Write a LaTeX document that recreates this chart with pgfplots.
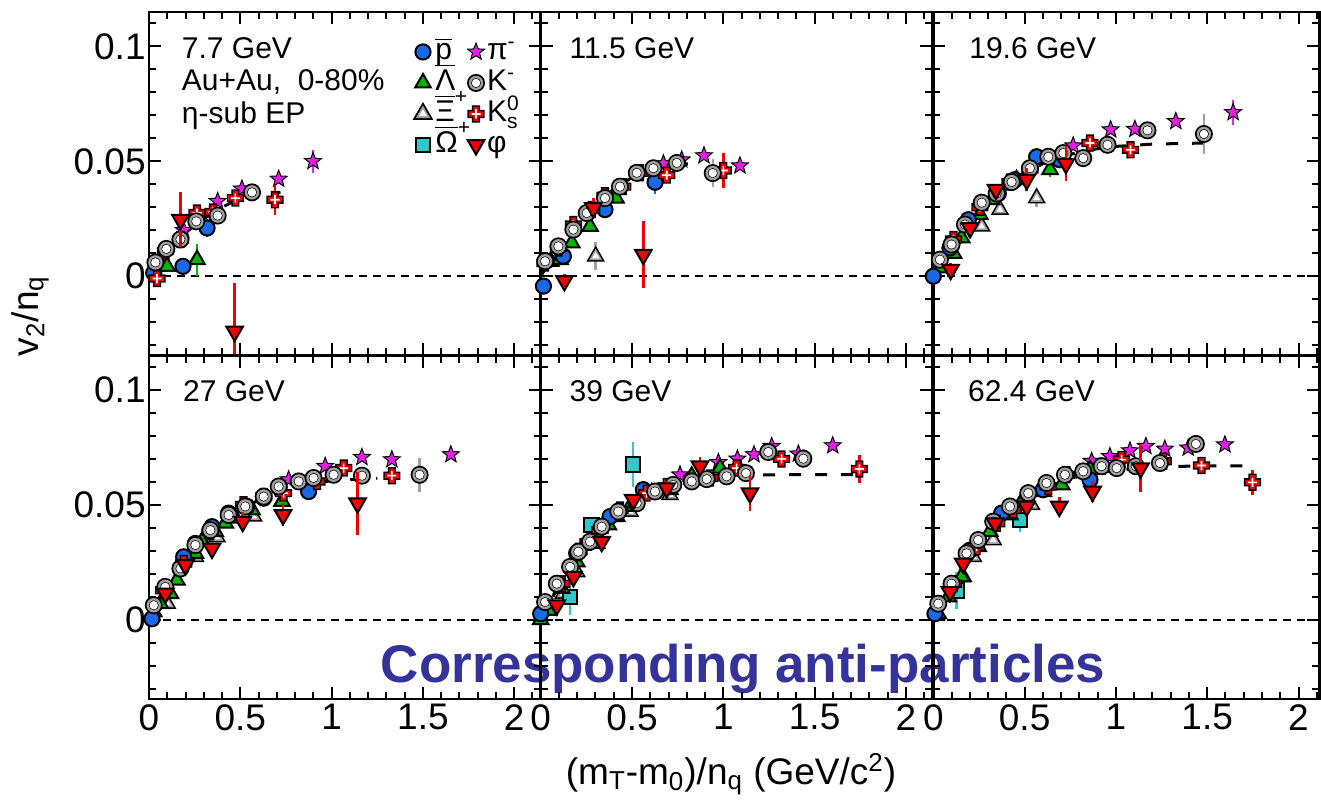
\documentclass[border=0pt]{standalone}
\usepackage{amsmath}
\usepackage{pgfplots}
\pgfplotsset{compat=1.18}
\usepackage{fontspec}
\setmainfont{Liberation Sans}

\definecolor{pblue}{RGB}{25,105,230}
\definecolor{lgreen}{RGB}{0,180,0}
\definecolor{mag}{RGB}{230,30,230}
\definecolor{ocyan}{RGB}{50,200,200}
\definecolor{kred}{RGB}{240,0,0}
\definecolor{xgray}{RGB}{160,160,160}
\definecolor{txtblue}{RGB}{51,51,153}

\pgfdeclareplotmark{kring}{%
  \pgfsetfillcolor{black}\pgfpathcircle{\pgfpointorigin}{\pgfplotmarksize}\pgfusepathqfill
  \pgfsetfillcolor{xgray}\pgfpathcircle{\pgfpointorigin}{0.8\pgfplotmarksize}\pgfusepathqfill
  \pgfsetfillcolor{black}\pgfpathcircle{\pgfpointorigin}{0.55\pgfplotmarksize}\pgfusepathqfill
  \pgfsetfillcolor{white}\pgfpathcircle{\pgfpointorigin}{0.47\pgfplotmarksize}\pgfusepathqfill
}
\newcommand\tripath[3]{% top, half-base x, base y (factors)
  \pgfpathmoveto{\pgfqpoint{0pt}{#1\pgfplotmarksize}}%
  \pgfpathlineto{\pgfqpoint{-#2\pgfplotmarksize}{-#3\pgfplotmarksize}}%
  \pgfpathlineto{\pgfqpoint{#2\pgfplotmarksize}{-#3\pgfplotmarksize}}%
  \pgfpathclose}
\pgfdeclareplotmark{xitri}{%
  \pgfsetfillcolor{black}\tripath{1.3}{1.126}{0.65}\pgfusepathqfill
  \pgfsetfillcolor{xgray}\tripath{0.92}{0.797}{0.46}\pgfusepathqfill
  \pgfsetfillcolor{white}\tripath{0.5}{0.433}{0.25}\pgfusepathqfill
}
\newcommand\pluspath[2]{%
  \pgfpathmoveto{\pgfqpoint{-#1\pgfplotmarksize}{#2\pgfplotmarksize}}%
  \pgfpathlineto{\pgfqpoint{#1\pgfplotmarksize}{#2\pgfplotmarksize}}%
  \pgfpathlineto{\pgfqpoint{#1\pgfplotmarksize}{#1\pgfplotmarksize}}%
  \pgfpathlineto{\pgfqpoint{#2\pgfplotmarksize}{#1\pgfplotmarksize}}%
  \pgfpathlineto{\pgfqpoint{#2\pgfplotmarksize}{-#1\pgfplotmarksize}}%
  \pgfpathlineto{\pgfqpoint{#1\pgfplotmarksize}{-#1\pgfplotmarksize}}%
  \pgfpathlineto{\pgfqpoint{#1\pgfplotmarksize}{-#2\pgfplotmarksize}}%
  \pgfpathlineto{\pgfqpoint{-#1\pgfplotmarksize}{-#2\pgfplotmarksize}}%
  \pgfpathlineto{\pgfqpoint{-#1\pgfplotmarksize}{-#1\pgfplotmarksize}}%
  \pgfpathlineto{\pgfqpoint{-#2\pgfplotmarksize}{-#1\pgfplotmarksize}}%
  \pgfpathlineto{\pgfqpoint{-#2\pgfplotmarksize}{#1\pgfplotmarksize}}%
  \pgfpathlineto{\pgfqpoint{-#1\pgfplotmarksize}{#1\pgfplotmarksize}}%
  \pgfpathclose}
\pgfdeclareplotmark{kscross}{%
  \pgfsetfillcolor{black}\pluspath{0.5}{1.05}\pgfusepathqfill
  \pgfsetfillcolor{kred}\pluspath{0.32}{0.87}\pgfusepathqfill
  \pgfsetfillcolor{white}\pluspath{0.1}{0.55}\pgfusepathqfill
}
\pgfdeclareplotmark{fstar}{%
  \pgfpathmoveto{\pgfpointpolar{90}{1.3\pgfplotmarksize}}%
  \pgfpathlineto{\pgfpointpolar{126}{0.55\pgfplotmarksize}}%
  \pgfpathlineto{\pgfpointpolar{162}{1.3\pgfplotmarksize}}%
  \pgfpathlineto{\pgfpointpolar{198}{0.55\pgfplotmarksize}}%
  \pgfpathlineto{\pgfpointpolar{234}{1.3\pgfplotmarksize}}%
  \pgfpathlineto{\pgfpointpolar{270}{0.55\pgfplotmarksize}}%
  \pgfpathlineto{\pgfpointpolar{306}{1.3\pgfplotmarksize}}%
  \pgfpathlineto{\pgfpointpolar{342}{0.55\pgfplotmarksize}}%
  \pgfpathlineto{\pgfpointpolar{18}{1.3\pgfplotmarksize}}%
  \pgfpathlineto{\pgfpointpolar{54}{0.55\pgfplotmarksize}}%
  \pgfpathclose\pgfusepathqfillstroke
}

\tikzset{ptxt/.style={anchor=base west, font=\fontsize{15}{16}\selectfont}}

\pgfplotsset{
  eb/.style={error bars/y dir=both, error bars/y explicit, error bars/error mark=none,
    error bars/error bar style={line width=1.2pt,#1}},
  mpbar/.style={only marks, mark=*, mark size=3.8pt, mark options={fill=pblue, draw=black, line width=1pt}},
  spbar/.style={mpbar, eb=pblue},
  mlam/.style={only marks, mark=triangle*, mark size=4.5pt, mark options={fill=lgreen, draw=black, line width=1pt}},
  slam/.style={mlam, eb=lgreen},
  mxi/.style={only marks, mark=xitri, mark size=4.1pt},
  sxi/.style={mxi, eb=xgray},
  mom/.style={only marks, mark=square*, mark size=3.6pt, mark options={fill=ocyan, draw=black, line width=1pt}},
  som/.style={mom, eb=ocyan},
  mpi/.style={only marks, mark=fstar, mark size=3.4pt, mark options={fill=mag, draw=black, line width=0.5pt}},
  spi/.style={mpi, eb=mag},
  mkm/.style={only marks, mark=kring, mark size=4.5pt},
  skm/.style={mkm, eb=xgray},
  mks/.style={only marks, mark=kscross, mark size=4.1pt},
  sks/.style={mks, eb=kred},
  mphi/.style={only marks, mark=triangle*, mark size=4.8pt, mark options={rotate=180, fill=kred, draw=black, line width=1pt}},
  sphi/.style={mphi, eb=kred},
  zero/.style={black, line width=0.8pt, dash pattern=on 4pt off 3pt, forget plot},
  fit/.style={black, line width=1.5pt, dash pattern=on 6pt off 7pt, forget plot},
  panel/.style={
    scale only axis, height=171.75pt, anchor=north west,
    xmin=0, ymin=-0.0345, ymax=0.115,
    axis line style={line width=1.4pt},
    xtick={0,0.5,1,1.5,2},
    minor xtick={0.1,0.2,0.3,0.4,0.6,0.7,0.8,0.9,1.1,1.2,1.3,1.4,1.6,1.7,1.8,1.9,2.1},
    ytick={0,0.05,0.1},
    minor ytick={-0.03,-0.02,-0.01,0.01,0.02,0.03,0.04,0.06,0.07,0.08,0.09,0.11},
    tick align=inside, tick pos=both, major tick length=6pt, minor tick length=3.5pt,
    tick style={black, line width=1pt},
    xticklabels={}, yticklabels={},
    ticklabel style={font=\fontsize{18.5}{20}\selectfont},
    yticklabel style={inner xsep=1.5pt},
    xticklabel style={inner ysep=2.5pt},
    clip mode=individual,
  },
  wide/.style={width=195.85pt, xmax=2.145},
}

\begin{document}
\begin{tikzpicture}
\useasboundingbox (0,0) rectangle (660.5pt,-401pt);
\node[anchor=base, text=txtblue, font=\fontsize{26.5}{30}\selectfont\bfseries] at (371.5pt,-341pt) {Corresponding anti-particles};

% ---------- 7.7 GeV ----------
\begin{axis}[panel, wide, at={(74.5pt,-6pt)}, yticklabels={0,0.05,0.1},
  legend columns=2,
  legend style={draw=none, fill=none, at={(rel axis cs:0.672,0.93)}, anchor=north west,
    font=\fontsize{15}{15}\selectfont, inner sep=0pt, row sep=0pt,
    nodes={text height=10.5pt, text depth=3pt, inner sep=1pt},
    /tikz/every even column/.append style={column sep=-3pt}},
  legend cell align=left,
  legend image code/.code={\draw[mark repeat=2,mark phase=2,#1] plot coordinates {(0pt,0pt)(4.5pt,0pt)(9pt,0pt)};}]
\addlegendimage{mpbar}\addlegendentry{$\overline{\text{p}}$}
\addlegendimage{mpi}\addlegendentry{π\textsuperscript{-}}
\addlegendimage{mlam}\addlegendentry{$\overline{\text{Λ}}$}
\addlegendimage{mkm}\addlegendentry{K\textsuperscript{-}}
\addlegendimage{mxi, mark size=4.6pt}\addlegendentry{$\overline{\text{Ξ}}^{\text{+}}$}
\addlegendimage{mks}\addlegendentry{K$^{\text{0}}_{\text{s}}$}
\addlegendimage{mom}\addlegendentry{$\overline{\text{Ω}}^{\text{+}}$}
\addlegendimage{mphi}\addlegendentry{φ}
\addplot[zero] coordinates {(0,0)(2.2,0)};
\addplot[fit] coordinates {(0,0)(0.1,0.011)(0.2,0.019)(0.3,0.025)(0.4,0.03)(0.5,0.034)(0.6,0.036)(0.72,0.0365)};
\addplot[spi, forget plot] coordinates {(0.19,0.020)(0.376,0.0326)(0.509,0.038)(0.71,0.0423)(0.898,0.050) +- (0,0.005)};
\addplot[slam, forget plot] coordinates {(0.099,0.0043)(0.263,0.0072) +- (0,0.007)};
\addplot[spbar, forget plot] coordinates {(0.026,0.0015) +- (0,0.003)(0.186,0.0043)(0.318,0.021) +- (0,0.004)};
\addplot[sks, forget plot] coordinates {(0.044,-0.001)(0.09,0.011)(0.172,0.016)(0.263,0.0275)(0.35,0.028)(0.473,0.034)(0.69,0.0333) +- (0,0.0065)};
\addplot[skm, forget plot] coordinates {(0.035,0.006)(0.095,0.0119)(0.172,0.016)(0.259,0.0239)(0.376,0.0264)(0.564,0.0365)};
\addplot[sphi, forget plot] coordinates {(0.172,0.0246) +- (0,0.012)(0.469,-0.024) +- (0,0.021)};
\node[ptxt] at (rel axis cs:0.066,0.866) {7.7 GeV};
\node[ptxt] at (rel axis cs:0.066,0.771) {Au+Au,\ \ 0-80\%};
\node[ptxt] at (rel axis cs:0.066,0.676) {η-sub EP};
\end{axis}

% ---------- 11.5 GeV ----------
\begin{axis}[panel, wide, at={(270.35pt,-6pt)}]
\addplot[zero] coordinates {(0,0)(2.2,0)};
\addplot[fit] coordinates {(0,0)(0.1,0.013)(0.2,0.023)(0.3,0.031)(0.4,0.038)(0.5,0.043)(0.6,0.046)(0.7,0.048)(0.82,0.049)};
\addplot[spi] coordinates {(0.672,0.049)(0.772,0.0507)(0.894,0.0525)(1.091,0.0481)};
\addplot[sxi] coordinates {(0.301,0.0087) +- (0,0.006)};
\addplot[slam] coordinates {(0.055,0.0065)(0.106,0.0072)(0.17,0.0145)(0.27,0.0217)(0.412,0.034)};
\addplot[spbar] coordinates {(0.015,-0.0043)(0.124,0.0087)(0.352,0.029)(0.626,0.0409) +- (0,0.005)};
\addplot[sks] coordinates {(0.024,0.0058)(0.097,0.0123)(0.179,0.0225)(0.28,0.029)(0.352,0.035)(0.45,0.039)(0.544,0.045)(0.69,0.044)(1.0,0.046) +- (0,0.0075)};
\addplot[skm] coordinates {(0.024,0.0065)(0.097,0.013)(0.179,0.0203)(0.252,0.0275)(0.352,0.034)(0.434,0.039)(0.526,0.045)(0.617,0.047)(0.745,0.0493)(0.942,0.0449) +- (0,0.006)};
\addplot[sphi] coordinates {(0.13,-0.002) +- (0,0.003)(0.288,0.0297) +- (0,0.0045)(0.562,0.0094) +- (0,0.0145)};
\node[ptxt] at (rel axis cs:0.056,0.866) {11.5 GeV};
\end{axis}

% ---------- 19.6 GeV ----------
\begin{axis}[panel, width=193pt, xmax=2.114, at={(466.65pt,-6pt)}]
\addplot[zero] coordinates {(0,0)(2.2,0)};
\addplot[fit] coordinates {(0,0)(0.1,0.014)(0.2,0.025)(0.3,0.033)(0.4,0.04)(0.5,0.045)(0.6,0.049)(0.7,0.052)(0.8,0.054)(0.9,0.0555)(1.0,0.0565)(1.2,0.0575)(1.5,0.058)};
\addplot[spi] coordinates {(0.766,0.0568)(0.971,0.0638)(1.104,0.064)(1.328,0.0674)(1.642,0.0713) +- (0,0.0055)};
\addplot[sxi] coordinates {(0.265,0.0217)(0.365,0.029)(0.566,0.034) +- (0,0.004)};
\addplot[slam] coordinates {(0.036,0.0036)(0.11,0.01)(0.155,0.0167)(0.255,0.0268)(0.319,0.0333)(0.456,0.042)(0.639,0.0464) +- (0,0.003)};
\addplot[spbar] coordinates {(0,0)(0.091,0.0123)(0.192,0.0246)(0.356,0.036)(0.447,0.042)(0.566,0.052)(0.693,0.0507)};
\addplot[sks] coordinates {(0.11,0.016)(0.255,0.030)(0.42,0.041)(0.529,0.0464)(0.858,0.058)(1.08,0.055)};
\addplot[skm] coordinates {(0.036,0.0072)(0.1,0.0138)(0.173,0.0225)(0.265,0.032)(0.347,0.036)(0.429,0.041)(0.529,0.047)(0.63,0.052)(0.712,0.0536)(0.821,0.0514)(0.954,0.0572)(1.173,0.0635) +- (0,0.003)(1.482,0.0619) +- (0,0.0085)};
\addplot[sphi] coordinates {(0.095,0.0029) +- (0,0.003)(0.201,0.021)(0.343,0.0377)(0.511,0.042) +- (0,0.005)(0.726,0.049) +- (0,0.0075)};
\node[ptxt] at (rel axis cs:0.075,0.866) {19.6 GeV};
\end{axis}

% ---------- 27 GeV ----------
\begin{axis}[panel, wide, at={(74.5pt,-177.75pt)}, yticklabels={0,0.05,0.1}, xticklabels={0,0.5,1,1.5,2}]
\addplot[zero] coordinates {(0,0)(2.2,0)};
\addplot[fit] coordinates {(0,0)(0.1,0.014)(0.2,0.026)(0.3,0.035)(0.4,0.042)(0.5,0.048)(0.6,0.052)(0.7,0.055)(0.8,0.058)(0.9,0.0595)(1.0,0.0605)(1.1,0.061)(1.25,0.0615)};
\addplot[spi] coordinates {(0.765,0.061)(0.965,0.0668)(1.166,0.0707)(1.33,0.0697)(1.653,0.0719)};
\addplot[sxi] coordinates {(0.1,0.007)(0.254,0.0274)(0.372,0.036)(0.573,0.045)};
\addplot[slam] coordinates {(0.026,0.0034)(0.062,0.007)(0.117,0.0114)(0.153,0.0172)(0.254,0.0289)(0.29,0.034)(0.363,0.0383)(0.418,0.042)(0.473,0.0442)(0.564,0.0478)(0.728,0.0515)};
\addplot[spbar] coordinates {(0.016,0.0004)(0.19,0.0274)(0.254,0.0332)(0.345,0.0405)(0.436,0.0464)(0.536,0.0493)(0.628,0.0529)(0.874,0.0558)};
\addplot[sks] coordinates {(0.08,0.0128)(0.19,0.0245)(0.336,0.0383)(0.518,0.05)(0.628,0.0536)(0.737,0.0551)(0.92,0.0602)(1.066,0.066)(1.33,0.0627)};
\addplot[skm] coordinates {(0.026,0.0063)(0.089,0.0143)(0.172,0.0223)(0.254,0.0325)(0.336,0.039)(0.436,0.0456)(0.527,0.0493)(0.628,0.0536)(0.71,0.058)(0.82,0.0602)(0.901,0.0617)(1.011,0.0631)(1.166,0.0627)(1.482,0.0631) +- (0,0.0073)};
\addplot[sphi] coordinates {(0.089,0.0114)(0.199,0.0238)(0.345,0.031)(0.513,0.0427) +- (0,0.004)(0.734,0.0456) +- (0,0.005)(1.142,0.0507) +- (0,0.0138)};
\node[ptxt] at (rel axis cs:0.069,0.867) {27 GeV};
\end{axis}

% ---------- 39 GeV ----------
\begin{axis}[panel, wide, at={(270.35pt,-177.75pt)}, xticklabels={0,0.5,1,1.5,2}]
\addplot[zero] coordinates {(0,0)(2.2,0)};
\addplot[fit] coordinates {(0,0)(0.1,0.015)(0.2,0.028)(0.3,0.037)(0.4,0.045)(0.5,0.051)(0.6,0.055)(0.7,0.058)(0.8,0.06)(0.9,0.0615)(1.0,0.0625)(1.2,0.063)(1.5,0.0632)(1.75,0.0632)};
\addplot[spi] coordinates {(0.763,0.0631)(0.973,0.0685)(1.077,0.07)(1.168,0.0719)(1.265,0.0755)(1.411,0.0722)(1.599,0.0758)};
\addplot[sxi] coordinates {(0.124,0.0114)(0.197,0.0208)(0.307,0.0332)(0.489,0.0471)(0.708,0.0544)};
\addplot[som] coordinates {(0.161,0.0099) +- (0,0.008)(0.279,0.0413) +- (0,0.0035)(0.504,0.0675) +- (0,0.0098)};
\addplot[slam] coordinates {(0,0)(0.042,0.0041)(0.115,0.0136)(0.197,0.0252)(0.297,0.0362)(0.37,0.0413)(0.416,0.0449)(0.489,0.0493)(0.608,0.0551)(0.708,0.0566)(0.827,0.0624)(0.982,0.066) +- (0,0.004)};
\addplot[spbar] coordinates {(0,0.0026)(0.197,0.0289)(0.38,0.0449)(0.562,0.0566)};
\addplot[sks] coordinates {(0.115,0.0157)(0.234,0.0318)(0.325,0.039)(0.434,0.0478)(0.58,0.0551)(0.69,0.058)(0.927,0.0617)(1.073,0.066)(1.319,0.07)(1.745,0.0656) +- (0,0.006)};
\addplot[skm] coordinates {(0.024,0.0077)(0.088,0.0157)(0.161,0.023)(0.206,0.0296)(0.27,0.034)(0.334,0.0405)(0.425,0.0471)(0.526,0.0507)(0.626,0.0558)(0.726,0.0587)(0.827,0.0602)(0.909,0.0612)(1.018,0.0624)(1.124,0.0638)(1.246,0.073)(1.438,0.0701) +- (0,0.004)};
\addplot[sphi] coordinates {(0.088,0.0063)(0.179,0.0187)(0.334,0.034)(0.507,0.0522)(0.69,0.0573) +- (0,0.003)(0.872,0.0668) +- (0,0.004)(1.146,0.0551) +- (0,0.0077)};
\node[ptxt] at (rel axis cs:0.056,0.867) {39 GeV};
\end{axis}

% ---------- 62.4 GeV ----------
\begin{axis}[panel, width=193pt, xmax=2.114, at={(466.65pt,-177.75pt)}, xticklabels={0,0.5,1,1.5,2}]
\addplot[zero] coordinates {(0,0)(2.2,0)};
\addplot[fit] coordinates {(0,0)(0.1,0.015)(0.2,0.028)(0.3,0.038)(0.4,0.046)(0.5,0.052)(0.6,0.057)(0.7,0.06)(0.8,0.0625)(0.9,0.064)(1.0,0.065)(1.2,0.0665)(1.5,0.067)(1.75,0.067)};
\addplot[spi] coordinates {(0.867,0.069)(0.967,0.0711)(1.077,0.0736)(1.164,0.0755)(1.268,0.0743)(1.396,0.0748)(1.597,0.0762)};
\addplot[sxi] coordinates {(0.164,0.0187)(0.219,0.0274)(0.328,0.0347)(0.538,0.05)};
\addplot[som] coordinates {(0.128,0.0128) +- (0,0.008)(0.474,0.0434) +- (0,0.005)};
\addplot[slam] coordinates {(0.027,0.0026)(0.082,0.0099)(0.155,0.0187)(0.246,0.0318)(0.31,0.0383)(0.42,0.0456)(0.474,0.05)(0.602,0.0558)(0.703,0.0587)(0.858,0.0653)};
\addplot[spbar] coordinates {(0.009,0.0026)(0.201,0.0303)(0.374,0.0464)(0.602,0.0566)(0.858,0.0609)};
\addplot[sks] coordinates {(0.11,0.0157)(0.237,0.0318)(0.347,0.042)(0.438,0.0478)(0.63,0.058)(0.73,0.0631)(0.922,0.0668)(1.031,0.0697)(1.259,0.069)(1.469,0.0671) +- (0,0.003)(1.748,0.0598) +- (0,0.0055)};
\addplot[skm] coordinates {(0.027,0.007)(0.1,0.0157)(0.182,0.0289)(0.246,0.0347)(0.328,0.0427)(0.42,0.0493)(0.52,0.0551)(0.62,0.0595)(0.721,0.0631)(0.821,0.0646)(0.922,0.0668)(1.004,0.066)(1.109,0.0668)(1.241,0.0682)(1.438,0.0765) +- (0,0.003)};
\addplot[sphi] coordinates {(0.091,0.0121)(0.164,0.0245)(0.338,0.042)(0.511,0.0493)(0.69,0.0493) +- (0,0.004)(0.872,0.0558) +- (0,0.0045)(1.135,0.066) +- (0,0.0106)};
\node[ptxt] at (rel axis cs:0.072,0.867) {62.4 GeV};
\end{axis}

\node[rotate=90, font=\fontsize{18.5}{20}\selectfont] at (15pt,-158pt) {v\textsubscript{2}/n\textsubscript{q}};
\node[anchor=base, font=\fontsize{18.5}{20}\selectfont] at (365.5pt,-392pt) {(m\textsubscript{T}-m\textsubscript{0})/n\textsubscript{q} (GeV/c\textsuperscript{2})};
\end{tikzpicture}
\end{document}
